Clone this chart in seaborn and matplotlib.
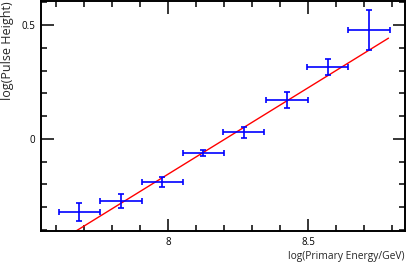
import numpy as np
import pandas as pd
import matplotlib
matplotlib.use("Agg")
import matplotlib.pyplot as plt
import seaborn as sns
from matplotlib.ticker import MultipleLocator

# data
log_energy = [7.683, 7.832, 7.979, 8.126, 8.270, 8.424, 8.570, 8.717]
log_pulse = [-0.320, -0.273, -0.190, -0.063, 0.030, 0.171, 0.317, 0.478]
energy_err = [0.074, 0.074, 0.074, 0.074, 0.074, 0.074, 0.074, 0.074]
pulse_err = [0.040, 0.032, 0.022, 0.013, 0.024, 0.034, 0.035, 0.089]
fit_slope = 0.758
fit_at_7671 = -0.404
fit_range = [7.60, 8.787]

sns.set_theme(style="ticks")
plt.rcParams['font.family'] = ['Open Sans', 'DejaVu Sans']

fig = plt.figure(figsize=(4.09, 2.65), dpi=100)
ax = fig.add_axes([41/409, 34/265, 364/409, 230/265])

fx = np.linspace(fit_range[0], fit_range[1], 50)
fit_df = pd.DataFrame({"x": fx, "y": fit_slope * (fx - 7.671) + fit_at_7671})
sns.lineplot(data=fit_df, x="x", y="y", color="#ff0000", linewidth=1.0, ax=ax, zorder=2)

ax.errorbar(log_energy, log_pulse, xerr=energy_err, yerr=pulse_err, fmt="none",
            ecolor="#0000ff", elinewidth=1.2, capsize=2.4, capthick=1.2, zorder=3)

ax.set_xlim(7.546, 8.846)
ax.set_ylim(-0.404, 0.605)
ax.xaxis.set_major_locator(MultipleLocator(0.5))
ax.xaxis.set_minor_locator(MultipleLocator(0.1))
ax.yaxis.set_major_locator(MultipleLocator(0.5))
ax.yaxis.set_minor_locator(MultipleLocator(0.1))
ax.xaxis.set_major_formatter(matplotlib.ticker.FuncFormatter(lambda v, p: f"{v:g}"))
ax.yaxis.set_major_formatter(matplotlib.ticker.FuncFormatter(lambda v, p: f"{v:g}"))
ax.tick_params(which="both", direction="in", top=True, right=True, colors="black",
               labelsize=7, width=1.1)
ax.tick_params(which="major", length=9, pad=4)
ax.tick_params(which="minor", length=4.5)
for s in ax.spines.values():
    s.set_linewidth(1.4)
    s.set_color("black")

ax.set_xlabel("")
ax.set_ylabel("")
fig.text(404/409, 8/265, "log(Primary Energy/GeV)", ha="right", va="center", fontsize=7.4)
fig.text(8/409, (265-51)/265, "log(Pulse Height)", ha="center", va="center", rotation=90, fontsize=9.0)

fig.savefig("out.png", dpi=100)
